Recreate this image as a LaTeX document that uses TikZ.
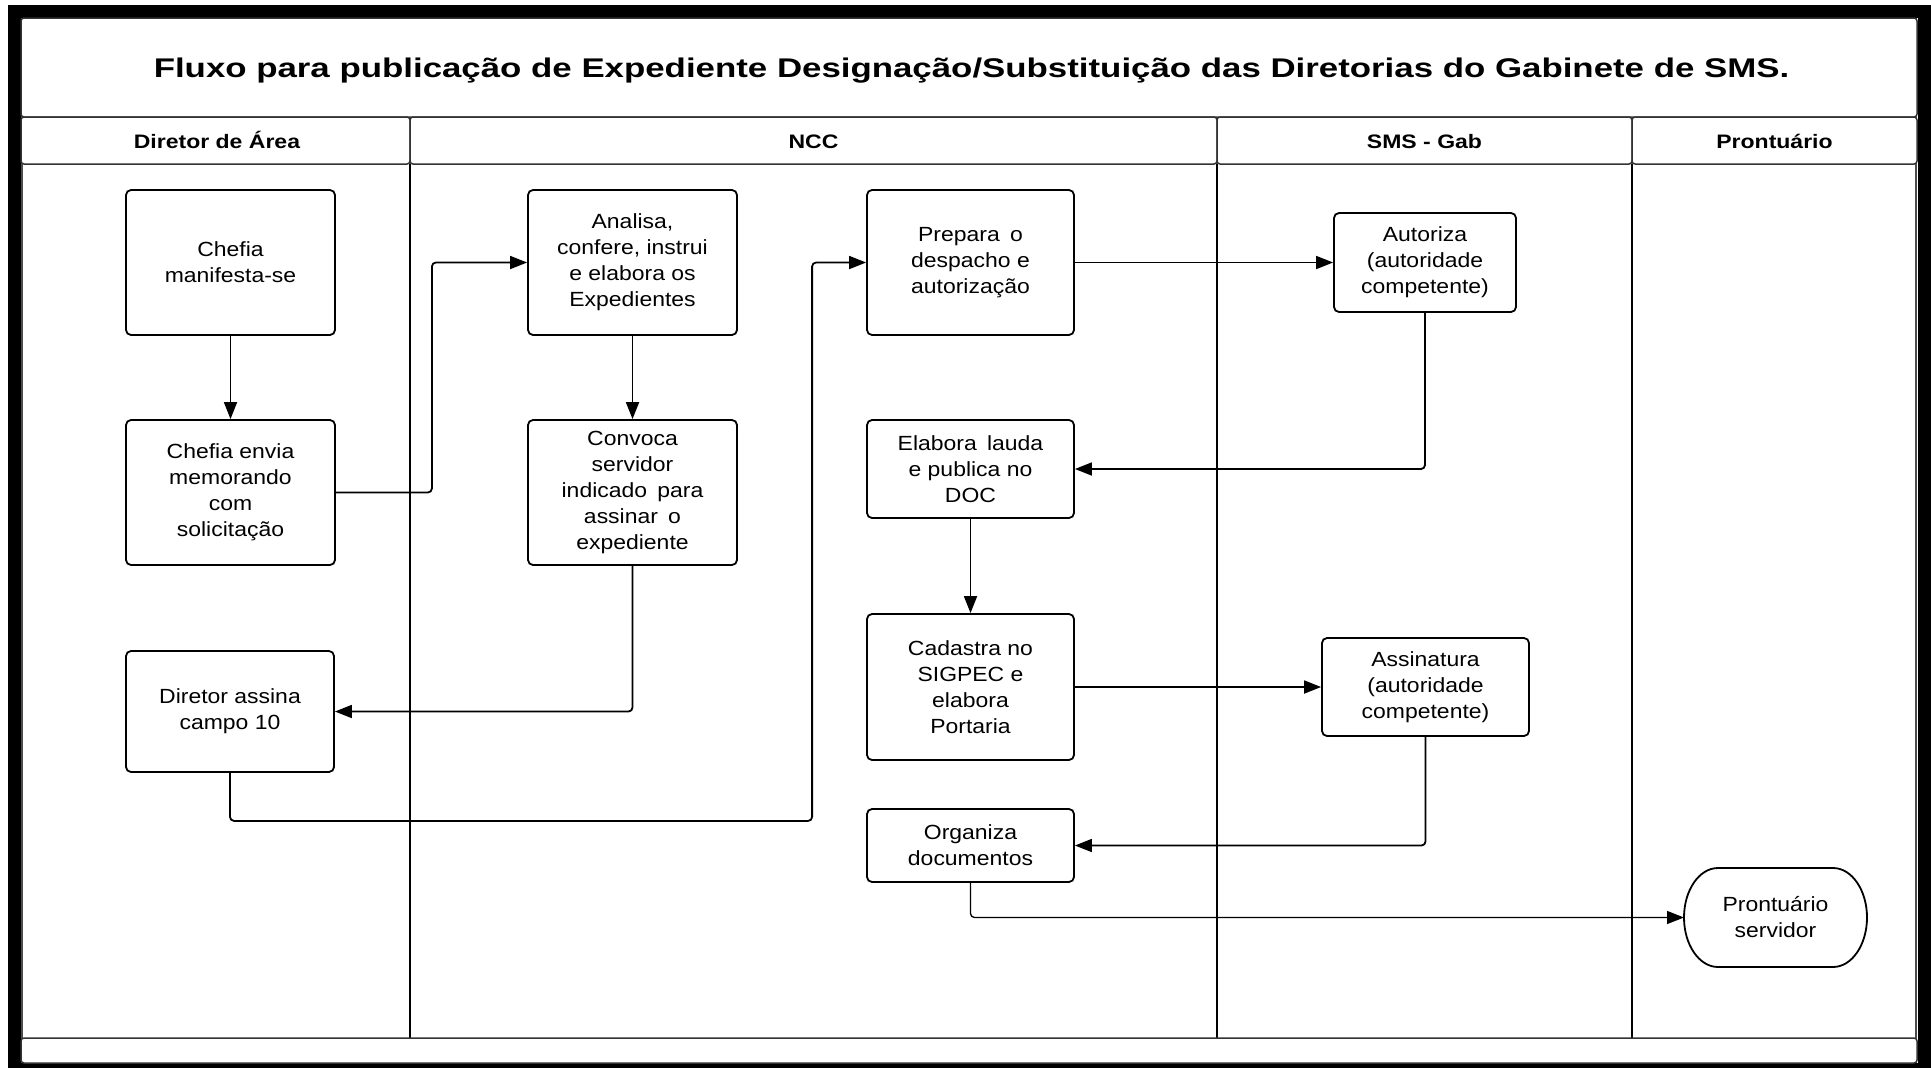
\documentclass[tikz,border=0pt]{standalone}
\usepackage{fontspec}
\setmainfont{Liberation Sans}
\newfontfamily\titlefont{Liberation Sans}[FakeStretch=1.29]
\newfontfamily\hdrfont{Liberation Sans}[FakeStretch=1.18]
\newfontfamily\boxfont{Liberation Sans}[FakeStretch=1.12]
\usetikzlibrary{arrows.meta}
\begin{document}
\begin{tikzpicture}[x=1pt,y=-1pt,
  box/.style={draw, line width=1.8pt, rounded corners=5pt, align=center,
    font=\boxfont\fontsize{20.5}{26}\selectfont, inner sep=0pt},
  flow/.style={draw, line width=1.8pt, rounded corners=4pt,
    -{Triangle[length=17pt,width=13pt]}},
  lane/.style={line width=2.4pt},
  cell/.style={draw=black!80, line width=1.5pt, rounded corners=3pt},
  hdr/.style={font=\hdrfont\bfseries\fontsize{19.5}{22}\selectfont, anchor=base}]
\useasboundingbox (0,0) rectangle (1931,1068);
% frame
\fill[black] (8,5) rectangle (1931,1068);
\fill[white] (21,18) rectangle (1918,1063);
% title
\draw[cell] (21,18) rectangle (1917,117);
\node[font=\titlefont\bfseries\fontsize{27}{30}\selectfont, anchor=base, inner sep=0pt] (title) at (971.5,77.5)
  {Fluxo para publicação de Expediente Designação/Substituição das Diretorias do Gabinete de SMS.};
% header cells
\draw[cell] (21,117) rectangle (410,164);
\draw[cell] (410,117) rectangle (1217,164);
\draw[cell] (1217,117) rectangle (1632,164);
\draw[cell] (1632,117) rectangle (1917,164);
\node[hdr] (h1) at (217,148) {Diretor de Área};
\node[hdr] (h2) at (813.5,148) {NCC};
\node[hdr] (h3) at (1424.5,148) {SMS - Gab};
\node[hdr] (h4) at (1774.5,148) {Prontuário};
% lane body
\draw[black!70, line width=1.5pt] (22,164) -- (22,1038);
\draw[black!70, line width=1.5pt] (1916,164) -- (1916,1038);
\draw[lane] (410,164) -- (410,1038);
\draw[lane] (1217,164) -- (1217,1038);
\draw[lane] (1632,164) -- (1632,1038);
\draw[cell] (21,1038) rectangle (1917,1063);
% nodes
\node[box, minimum width=209pt, minimum height=145pt] (m1) at (230.5,262.5) {Chefia\\manifesta-se};
\node[box, minimum width=209pt, minimum height=145pt] (m2) at (230.5,492.5) {Chefia envia\\memorando\\com\\solicitação};
\node[box, minimum width=208pt, minimum height=121pt] (m3) at (230,711.5) {Diretor assina\\campo 10};
\node[box, minimum width=209pt, minimum height=145pt] (n1) at (632.5,262.5) {Analisa,\\confere, instrui\\e elabora os\\Expedientes};
\node[box, minimum width=209pt, minimum height=145pt] (n2) at (632.5,492.5) {Convoca\\servidor\\indicado\enspace para\\assinar\enspace o\\expediente};
\node[box, minimum width=207pt, minimum height=145pt] (p1) at (970.5,262.5) {Prepara\enspace o\\despacho e\\autorização};
\node[box, minimum width=207pt, minimum height=98pt] (p2) at (970.5,469) {Elabora\enspace lauda\\e publica no\\DOC};
\node[box, minimum width=207pt, minimum height=146pt] (p3) at (970.5,687) {Cadastra no\\SIGPEC e\\elabora\\Portaria};
\node[box, minimum width=207pt, minimum height=73pt] (p4) at (970.5,845.5) {Organiza\\documentos};
\node[box, minimum width=182pt, minimum height=99pt] (s1) at (1425,262.5) {Autoriza\\(autoridade\\competente)};
\node[box, minimum width=207pt, minimum height=98pt] (s2) at (1425.5,687) {Assinatura\\(autoridade\\competente)};
\node[align=center, font=\boxfont\fontsize{20.5}{26}\selectfont, inner sep=0pt, outer sep=0pt,
  minimum width=183pt, minimum height=99pt] (pr) at (1775.5,917.5) {Prontuário\\servidor};
\draw[line width=1.8pt] (1718,868) -- (1833,868)
  .. controls (1851.8,868) and (1867,890.2) .. (1867,917.5)
  .. controls (1867,944.8) and (1851.8,967) .. (1833,967)
  -- (1718,967)
  .. controls (1699.2,967) and (1684,944.8) .. (1684,917.5)
  .. controls (1684,890.2) and (1699.2,868) .. (1718,868) -- cycle;
% connectors
\draw[flow] (m1) -- (m2);
\draw[flow] (m2.east) -- ++(96,0) |- (n1.west);
\draw[flow] (n1) -- (n2);
\draw[flow] (n2.south) |- (m3.east);
\draw[flow] (m3.south) -- ++(0,48) -| ([xshift=-54pt]p1.west) -- (p1.west);
\draw[flow] (p1) -- (s1);
\draw[flow] (s1.south) |- (p2.east);
\draw[flow] (p2) -- (p3);
\draw[flow] (p3) -- (s2);
\draw[flow] (s2.south) |- (p4.east);
\draw[flow, line width=1.3pt] (p4.south) |- (pr.west);
\end{tikzpicture}
\end{document}
